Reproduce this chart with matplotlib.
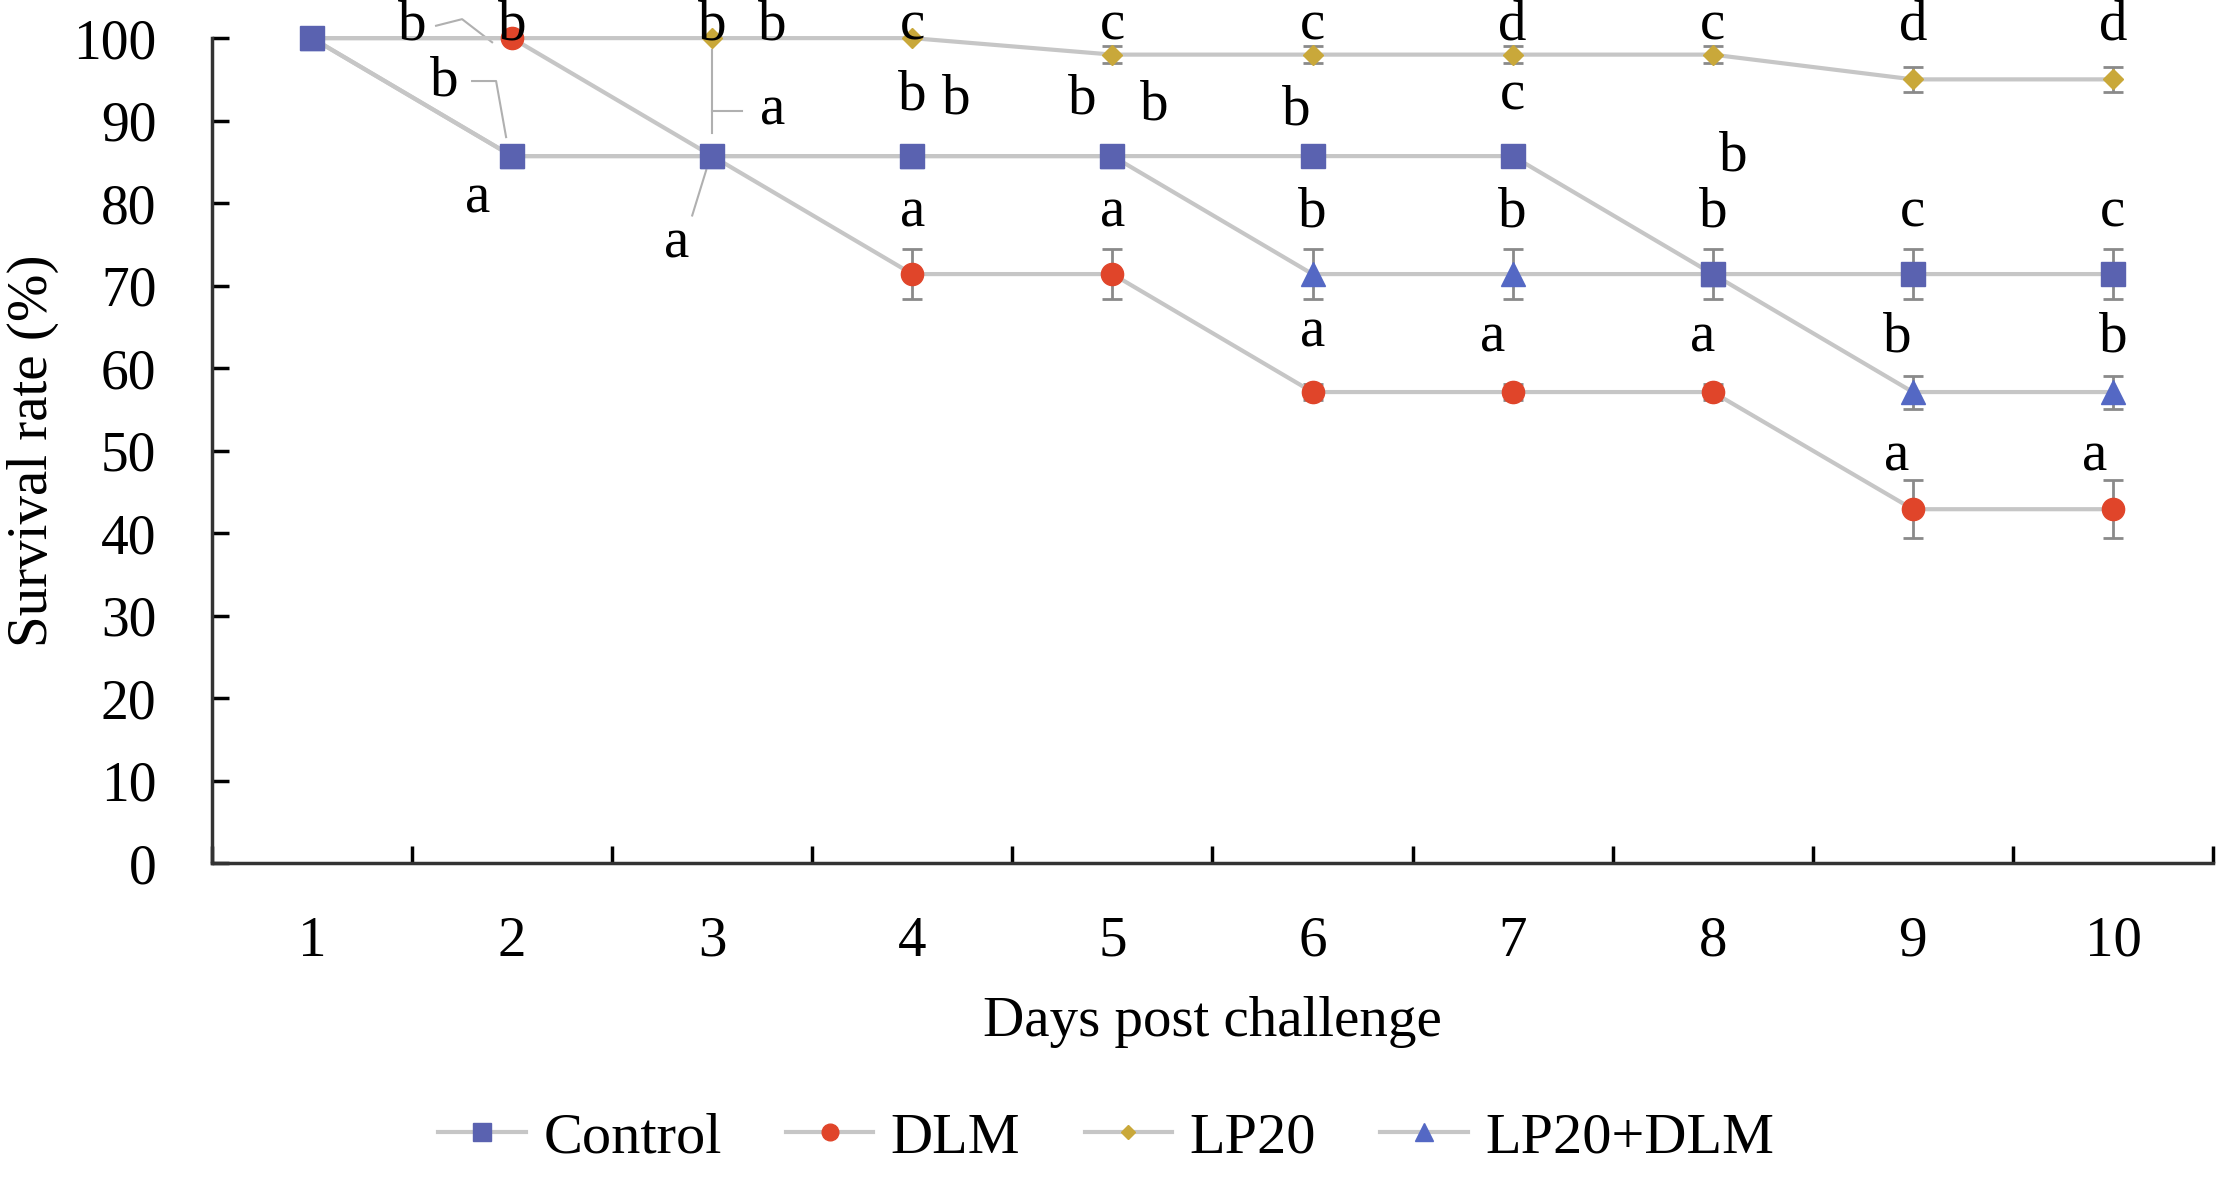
import matplotlib
matplotlib.use("Agg")
import matplotlib.pyplot as plt

plt.rcParams['font.family'] = ['Liberation Serif', 'DejaVu Serif']

days = [1, 2, 3, 4, 5, 6, 7, 8, 9, 10]
groups = ['Control', 'DLM', 'LP20', 'LP20+DLM']

control = [100, 85.7, 85.7, 85.7, 85.7, 85.7, 85.7, 71.4, 71.4, 71.4]
dlm = [100, 100, 85.7, 71.4, 71.4, 57.1, 57.1, 57.1, 42.9, 42.9]
lp20 = [100, 100, 100, 100, 98, 98, 98, 98, 95, 95]
lp20_dlm = [100, 85.7, 85.7, 85.7, 85.7, 71.4, 71.4, 71.4, 57.1, 57.1]

control_err = [0, 0, 0, 0, 0, 0, 0, 3, 3, 3]
dlm_err = [0, 0, 0, 3, 3, 1, 1, 1, 3.5, 3.5]
lp20_err = [0, 0, 0, 0, 1, 1, 1, 1, 1.5, 1.5]
lp20_dlm_err = [0, 0, 0, 0, 0, 3, 3, 0, 2, 2]

# significance letters (day position, y, letter)
letters_x = [1.5, 2.0, 1.66, 1.83,
             3.0, 3.3, 3.3, 2.82,
             4.0, 4.0, 4.22, 4.0,
             5.0, 4.85, 5.21, 5.0,
             6.0, 5.92, 6.0, 6.0,
             7.0, 7.0, 7.0, 6.9,
             8.0, 8.1, 8.0, 7.95,
             9.0, 9.0, 8.92, 8.92,
             10.0, 10.0, 10.0, 9.91]
letters_y = [101.5, 101.5, 94.8, 80.6,
             101.5, 101.5, 91.2, 75.1,
             101.5, 93.1, 92.6, 78.9,
             101.5, 92.6, 91.8, 78.9,
             101.5, 91.2, 78.9, 64.3,
             101.5, 93.1, 78.9, 63.7,
             101.5, 85.7, 78.9, 63.7,
             101.5, 78.9, 63.7, 49.3,
             101.5, 78.9, 63.7, 49.3]
letters = ['b', 'b', 'b', 'a',
           'b', 'b', 'a', 'a',
           'c', 'b', 'b', 'a',
           'c', 'b', 'b', 'a',
           'c', 'b', 'b', 'a',
           'd', 'c', 'b', 'a',
           'c', 'b', 'b', 'a',
           'd', 'c', 'b', 'a',
           'd', 'c', 'b', 'a']

fig = plt.figure(figsize=(22.17, 11.84), dpi=100)
ax = fig.add_axes([0.0956, 0.271, 0.9026, 0.6968])

line_col = '#c6c6c6'
series = [
    (control, control_err, 's', '#5a62b0', 17, 6),
    (dlm, dlm_err, 'o', '#e0452a', 16, 5),
    (lp20, lp20_err, 'D', '#c9a83a', 10, 4),
    (lp20_dlm, lp20_dlm_err, '^', '#5468c4', 17, 3),
]
for (vals, err, mk, col, ms, z), name in zip(series, groups):
    ax.errorbar(days, vals, yerr=err, fmt='none', ecolor='#8a8a8a',
                elinewidth=2, capsize=7, capthick=2, zorder=z - 0.5, clip_on=False)
    ax.plot(days, vals, color=line_col, lw=3, marker=mk, ms=ms,
            markerfacecolor=col, markeredgecolor=col, label=name,
            zorder=z, clip_on=False)

for x, y, t in zip(letters_x, letters_y, letters):
    ax.text(x, y, t, fontsize=41, ha='center', va='center', zorder=10)

# leader lines next to crowded letters
lead = dict(color='#b0b0b0', lw=1.5, zorder=2, clip_on=False)
ax.plot([1.62, 1.75, 1.9], [101.5, 102.3, 99.5], **lead)
ax.plot([1.8, 1.92, 1.97], [94.8, 94.8, 88.0], **lead)
ax.plot([3.0, 3.0], [98.5, 88.5], **lead)
ax.plot([3.0, 3.15], [91.2, 91.2], **lead)
ax.plot([2.9, 2.97], [78.5, 84.0], **lead)

ax.set_xlim(0.5, 10.5)
ax.set_ylim(0, 100)
ax.set_xticks(days)
ax.set_xticks([d + 0.5 for d in [0] + days], minor=True)
ax.set_yticks(range(0, 101, 10))
ax.tick_params(axis='x', which='major', length=0, pad=38, labelsize=41)
ax.tick_params(axis='x', which='minor', direction='in', length=12, width=2.5)
ax.tick_params(axis='y', direction='in', length=12, width=2.5, pad=40, labelsize=40)

for s in ['top', 'right']:
    ax.spines[s].set_visible(False)
for s in ['left', 'bottom']:
    ax.spines[s].set_linewidth(2.5)
    ax.spines[s].set_color('#333333')

ax.set_xlabel('Days post challenge', fontsize=41, labelpad=20)
ax.set_ylabel('Survival rate (%)', fontsize=41, labelpad=10)

fig.legend(loc='lower center', bbox_to_anchor=(0.499, -0.028), ncol=4, frameon=False,
           fontsize=42, handlelength=1.5, columnspacing=1.1, handletextpad=0.3,
           markerscale=0.75)

fig.savefig('out.png', dpi=100)
